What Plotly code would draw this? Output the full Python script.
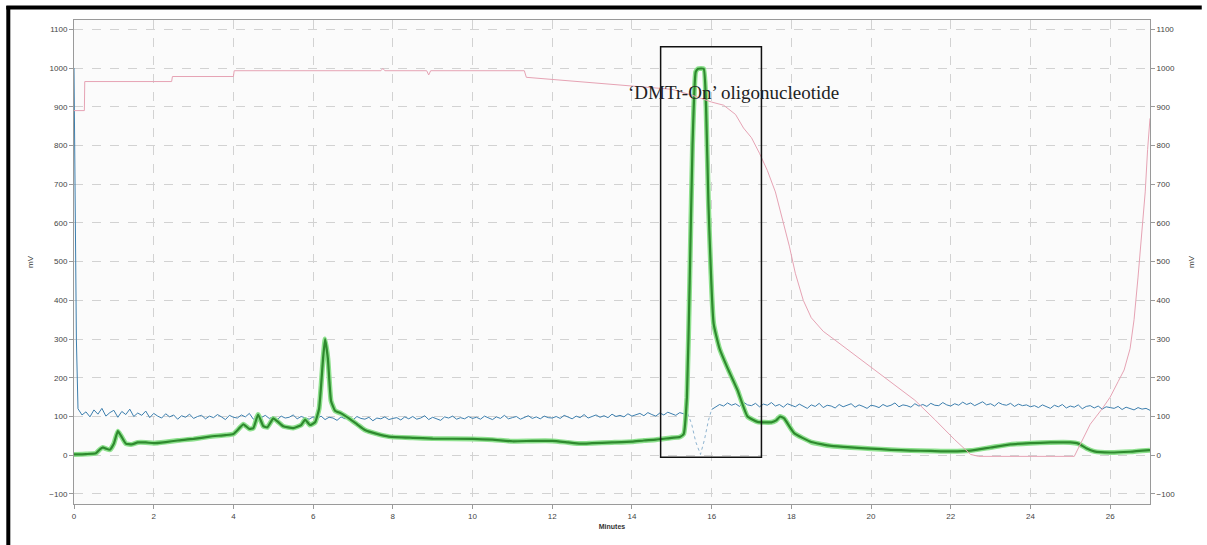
import plotly.graph_objects as go

# ---------------- data ----------------
green_t = [0, 0.3, 0.55, 0.65, 0.72, 0.8, 0.9, 1.0, 1.1, 1.18, 1.3, 1.45, 1.6, 1.8, 2.0,
           2.3, 2.6, 3.0, 3.4, 3.8, 4.0, 4.15, 4.25, 4.4, 4.5, 4.62, 4.75, 4.85, 5.0, 5.1,
           5.25, 5.5, 5.7, 5.8, 5.92, 6.05, 6.15, 6.25, 6.3, 6.37, 6.45, 6.55, 6.7, 6.9,
           7.1, 7.3, 7.6, 7.9, 8.5, 9.0, 10.0, 10.5, 11.0, 11.5, 12.0, 12.4, 12.7, 13.0,
           13.5, 14.0, 14.3, 14.6, 15.0, 15.2, 15.3, 15.38, 15.45, 15.52, 15.6, 15.66,
           15.8, 15.86, 15.92, 16.05, 16.2, 16.4, 16.65, 16.9, 17.15, 17.5, 17.62, 17.72,
           17.82, 18.07, 18.5, 19.0, 19.5, 20.0, 20.5, 21.0, 21.5, 22.0, 22.5, 23.0, 23.5,
           24.0, 24.5, 25.0, 25.2, 25.4, 25.6, 26.0, 26.5, 27.0]
green_v = [2, 3, 5, 15, 20, 17, 14, 30, 62, 50, 30, 28, 33, 33, 31,
           34, 38, 42, 48, 52, 55, 70, 80, 68, 70, 105, 75, 72, 95, 88,
           75, 70, 78, 92, 78, 85, 120, 250, 300, 250, 140, 115, 108, 95,
           80, 65, 55, 48, 45, 43, 42, 40, 36, 37, 37, 33, 30, 31,
           33, 35, 38, 40, 45, 47, 55, 150, 450, 800, 990, 998,
           998, 900, 650, 340, 275, 225, 168, 100, 86, 85, 90, 100,
           95, 57, 34, 24, 20, 17, 14, 12, 11, 10, 12, 20, 28,
           31, 33, 33, 30, 18, 10, 7, 9, 13]

# blue trace: sampled every 0.1 min
blue_start_t = [0, 0.03, 0.06]
blue_start_v = [1000, 700, 300]
blue_a = [120, 104, 112, 99, 117, 106, 121, 101, 110, 116, 98, 113, 105, 119, 100, 109, 103, 114, 97, 108,
          101, 96, 107, 99, 104, 93, 102, 98, 106, 95, 100, 103, 94, 101, 97, 105, 99, 92, 103, 98,
          96, 104, 99, 108, 93, 100, 97, 103, 95, 99, 92, 101, 96, 98, 104, 94, 100, 97, 93, 99,
          95, 101, 92, 98, 96, 90, 99, 94, 97, 91, 100, 95, 93, 98, 89, 96, 94, 99, 92, 95,
          97, 91, 99, 94, 100, 93, 96, 102, 92, 98, 95, 90, 99, 96, 101, 93, 97, 94, 100, 95,
          98, 93, 101, 96, 92, 99, 95, 103, 94, 97, 100, 93, 98, 102, 95, 99, 94, 101, 97, 96,
          100, 95, 103, 98, 94, 101, 97, 105, 96, 100, 104, 98, 102, 97, 106, 100, 103, 99, 107, 101,
          104, 108, 102, 110, 105, 101, 109, 104, 111, 106, 103, 110, 107, 108]
dip_t = [15.4, 15.5, 15.6, 15.72, 15.82, 15.92, 16.0]
dip_v = [108, 80, 35, 2, 40, 90, 118]
blue_b = [124, 131, 127, 135, 129, 133, 126, 137, 130, 128, 134, 125, 132, 129, 136, 127, 131, 124, 133, 128,
          125, 132, 127, 121, 130, 126, 134, 123, 129, 127, 122, 131, 125, 128, 133, 124, 130, 126, 121, 129,
          127, 123, 131, 126, 129, 135, 125, 130, 128, 124, 133, 127, 131, 126, 134, 129, 128, 136, 130, 127,
          133, 129, 137, 131, 135, 128, 134, 138, 130, 133, 127, 136, 131, 129, 134, 126, 132, 128, 130, 125,
          128, 123, 130, 126, 121, 129, 125, 131, 122, 127, 124, 130, 120, 126, 128, 122, 127, 119, 125, 123,
          121, 126, 118, 124, 120, 117, 123, 119, 121, 116]

pink_t = [0, 0.26, 0.27, 2.45, 2.47, 4.0, 4.02, 7.7, 7.75, 7.8, 8.85, 8.9, 8.95, 11.3, 11.35,
          13.0, 14.0, 15.0, 15.5, 16.0, 16.3, 16.6, 16.8, 17.0, 17.2, 17.4, 17.6, 17.8, 17.95,
          18.1, 18.3, 18.5, 18.8, 19.1, 19.6, 20.1, 20.6, 21.1, 21.6, 22.1, 22.5, 22.7, 25.1,
          25.3, 25.5, 25.8, 26.0, 26.2, 26.35, 26.5, 26.6, 26.7, 26.8, 26.88, 26.94, 27.0]
pink_v = [890, 890, 965, 965, 978, 978, 993, 993, 999, 993, 993, 982, 993, 993, 976,
          962, 953, 945, 930, 912, 904, 880, 845, 820, 780, 735, 680, 600, 540,
          470, 400, 355, 320, 297, 258, 220, 180, 142, 92, 40, 2, -3, -3,
          40, 80, 120, 150, 190, 220, 275, 350, 460, 580, 680, 790, 870]

x_ticks = list(range(0, 27, 2))
y_ticks = list(range(-100, 1101, 100))
peak_window = [14.72, 17.25]   # minutes spanned by the highlight box
peak_window_mv = [-5, 1055]
label_text = "\u2018DMTr-On\u2019 oligonucleotide"
label_pos = (16.56, 938)

# ---------------- figure ----------------
blue_t1 = blue_start_t + [round(0.1 * i, 1) for i in range(1, len(blue_a) + 1)]
blue_v1 = blue_start_v + blue_a
blue_t2 = [round(16.0 + 0.1 * i, 1) for i in range(1, len(blue_b) + 1)]

fig = go.Figure()
fig.add_trace(go.Scatter(x=pink_t, y=pink_v, mode="lines",
                         line=dict(color="#e6a3b4", width=1), yaxis="y2"))
fig.add_trace(go.Scatter(x=blue_t1, y=blue_v1, mode="lines",
                         line=dict(color="#3d7fae", width=1)))
fig.add_trace(go.Scatter(x=dip_t, y=dip_v, mode="lines",
                         line=dict(color="#8fb4d0", width=1, dash="dot")))
fig.add_trace(go.Scatter(x=[16.0] + blue_t2, y=[118] + blue_b, mode="lines",
                         line=dict(color="#3d7fae", width=1)))
fig.add_trace(go.Scatter(x=green_t, y=green_v, mode="lines",
                         line=dict(color="#8ee08e", width=5, shape="spline", smoothing=0.4)))
fig.add_trace(go.Scatter(x=green_t, y=green_v, mode="lines",
                         line=dict(color="#2e8a2e", width=2.2, shape="spline", smoothing=0.4)))

fig.add_shape(type="rect", xref="x", yref="y",
              x0=peak_window[0], x1=peak_window[1], y0=peak_window_mv[0], y1=peak_window_mv[1],
              line=dict(color="#111111", width=1.5))
fig.add_annotation(x=label_pos[0], y=label_pos[1], text=label_text, showarrow=False,
                   font=dict(family="Liberation Serif", size=19, color="#222222"))

# scanned-page black edge (top and left)
W, H = 1207, 545
ml, mr, mt, mb = 74, 52, 20, 41
pw, ph = W - ml - mr, H - mt - mb
def px(p): return (p - ml) / pw
def py(q): return (H - mb - q) / ph
fig.add_shape(type="line", xref="paper", yref="paper", x0=px(6), x1=px(W), y0=py(7.5), y1=py(7.5),
              line=dict(color="black", width=4))
fig.add_shape(type="line", xref="paper", yref="paper", x0=px(8), x1=px(8), y0=py(6), y1=py(H),
              line=dict(color="black", width=4))

tickfont = dict(family="Liberation Sans", size=8, color="#444444")
axis_common = dict(showline=True, linecolor="#9a9a9a", linewidth=1, ticks="outside",
                   ticklen=4, tickcolor="#9a9a9a", tickfont=tickfont, zeroline=False)
fig.update_layout(
    width=W, height=H,
    margin=dict(l=ml, r=mr, t=mt, b=mb),
    paper_bgcolor="white", plot_bgcolor="#fbfbfb",
    showlegend=False,
    xaxis=dict(range=[0, 27], tickvals=x_ticks, showgrid=True, gridcolor="#d2d2d2",
               griddash="dash", gridwidth=1, mirror=True,
               title=dict(text="<b>Minutes</b>", font=dict(family="Liberation Sans", size=7, color="#333"),
                          standoff=4),
               **axis_common),
    yaxis=dict(range=[-126, 1124], tickvals=y_ticks, showgrid=True, gridcolor="#d2d2d2",
               griddash="dash", gridwidth=1,
               title=dict(text="mV", font=dict(family="Liberation Sans", size=8, color="#333"),
                          standoff=14),
               **axis_common),
    yaxis2=dict(range=[-126, 1124], tickvals=y_ticks, overlaying="y", side="right",
                showgrid=False,
                title=dict(text="mV", font=dict(family="Liberation Sans", size=8, color="#333"),
                           standoff=14),
                **axis_common),
)

fig.write_html("out.html")
